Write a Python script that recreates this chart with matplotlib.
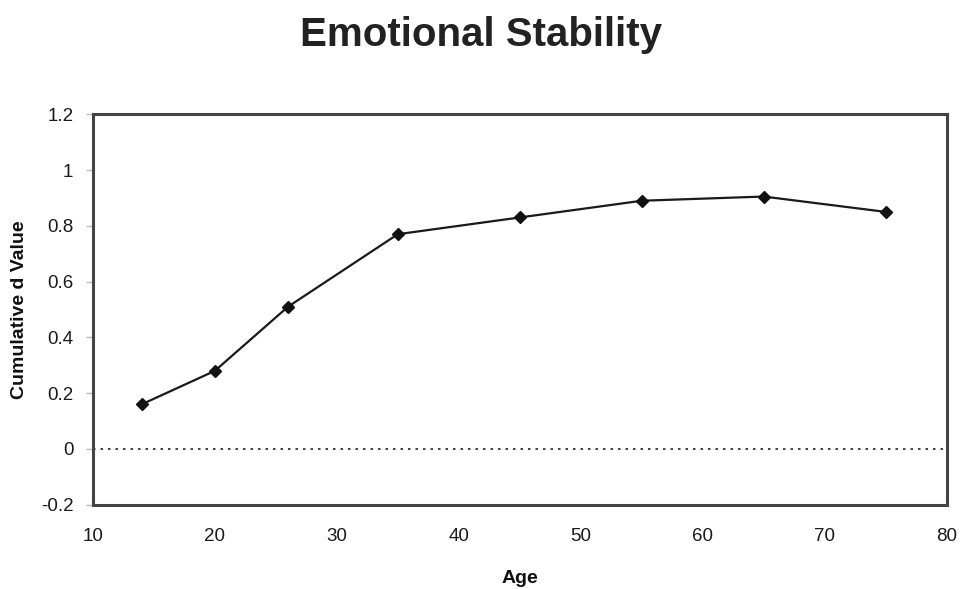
import matplotlib
matplotlib.use("Agg")
import matplotlib.pyplot as plt

ages = [14, 20, 26, 35, 45, 55, 65, 75]
d_values = [0.16, 0.28, 0.51, 0.77, 0.83, 0.89, 0.905, 0.85]
x_ticks = [10, 20, 30, 40, 50, 60, 70, 80]
y_ticks = [-0.2, 0, 0.2, 0.4, 0.6, 0.8, 1.0, 1.2]
y_tick_labels = ["-0.2", "0", "0.2", "0.4", "0.6", "0.8", "1", "1.2"]

plt.rcParams['font.family'] = ['Liberation Sans', 'DejaVu Sans']

fig = plt.figure(figsize=(9.67, 5.89), dpi=100)
ax = fig.add_axes([0.096, 0.143, 0.883, 0.663])

ax.plot(ages, d_values, color='#1a1a1a', linewidth=1.6, marker='D', markersize=6,
        markerfacecolor='#111111', markeredgecolor='#111111', zorder=3)
ax.axhline(0, color='#222222', linestyle=(0, (1.5, 3)), linewidth=1.2, zorder=2)

ax.set_xlim(10, 80)
ax.set_ylim(-0.2, 1.2)
ax.set_xticks(x_ticks)
ax.set_yticks(y_ticks)
ax.set_yticklabels(y_tick_labels)

for s in ax.spines.values():
    s.set_color('#444444')
    s.set_linewidth(2.2)

ax.tick_params(axis='y', direction='out', length=5, width=1, color='#bbbbbb',
               labelsize=13.5, labelcolor='#1a1a1a', pad=9)
ax.tick_params(axis='x', direction='out', length=0, labelsize=13.5,
               labelcolor='#1a1a1a', pad=17)

ax.set_xlabel('Age', fontsize=14, fontweight='bold', labelpad=18, color='#111111')
ax.set_ylabel('Cumulative d Value', fontsize=14, fontweight='bold', labelpad=9, color='#111111')
fig.suptitle('Emotional Stability', fontsize=29, fontweight='bold', x=0.497, y=0.972,
             color='#222222')

fig.savefig('out.png', dpi=100, facecolor='white')
